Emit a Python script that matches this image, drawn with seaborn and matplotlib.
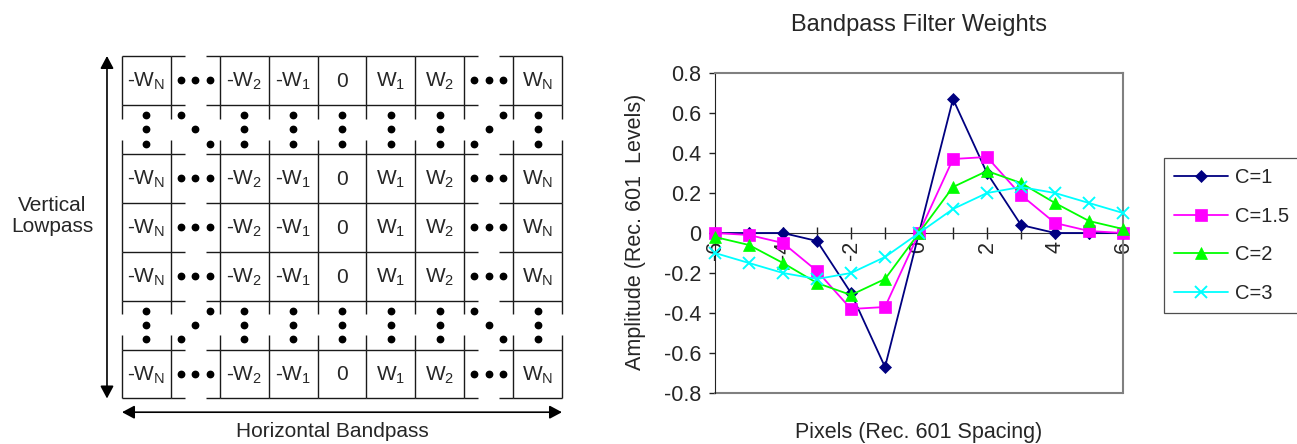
import numpy as np
import pandas as pd
import matplotlib
matplotlib.use("Agg")
import matplotlib.pyplot as plt
import seaborn as sns
from matplotlib.patches import ArrowStyle

# ---------------- data ----------------
pixels = [-6, -5, -4, -3, -2, -1, 0, 1, 2, 3, 4, 5, 6]
c_1 = [0, 0, 0, -0.04, -0.30, -0.67, 0, 0.67, 0.30, 0.04, 0, 0, 0]
c_1_5 = [0, -0.01, -0.05, -0.19, -0.38, -0.37, 0, 0.37, 0.38, 0.19, 0.05, 0.01, 0]
c_2 = [-0.02, -0.06, -0.15, -0.25, -0.31, -0.23, 0, 0.23, 0.31, 0.25, 0.15, 0.06, 0.02]
c_3 = [-0.10, -0.15, -0.20, -0.23, -0.20, -0.12, 0, 0.12, 0.20, 0.23, 0.20, 0.15, 0.10]
series_names = ["C=1", "C=1.5", "C=2", "C=3"]
y_ticks = [-0.8, -0.6, -0.4, -0.2, 0, 0.2, 0.4, 0.6, 0.8]

chart_title = "Bandpass Filter Weights"
x_title = "Pixels (Rec. 601 Spacing)"
y_title = "Amplitude (Rec. 601  Levels)"

# diagram content
col_labels = [r"-W$_\mathregular{N}$", "...", r"-W$_\mathregular{2}$", r"-W$_\mathregular{1}$", "0",
              r"W$_\mathregular{1}$", r"W$_\mathregular{2}$", "...", r"W$_\mathregular{N}$"]
row_kinds = ["values", "vdots", "values", "values", "values", "vdots", "values"]
vert_title = "Vertical\nLowpass"
horiz_title = "Horizontal Bandpass"

# ---------------- style ----------------
sns.set_style("white")
plt.rcParams["font.family"] = ["Liberation Sans", "DejaVu Sans"]
plt.rcParams["axes.unicode_minus"] = False

W, H = 1297, 444
fig = plt.figure(figsize=(W / 100, H / 100), dpi=100)

# ---------------- left diagram ----------------
ax0 = fig.add_axes([122 / W, 1 - 398.5 / H, 440 / W, 342.5 / H])
ncols, nrows = len(col_labels), len(row_kinds)
ax0.set_xlim(0, ncols)
ax0.set_ylim(nrows, 0)
ax0.axis("off")

lk = dict(color="#1a1a1a", lw=1.0, solid_capstyle="butt", clip_on=False)
dot_cols = [i for i, l in enumerate(col_labels) if l == "..."]
hgap = (0.29, 0.71)
vgap = (0.28, 0.71)
for r in range(nrows + 1):
    for c in range(ncols):
        if c in dot_cols:
            ax0.plot([c, c + hgap[0]], [r, r], **lk)
            ax0.plot([c + hgap[1], c + 1], [r, r], **lk)
        else:
            ax0.plot([c, c + 1], [r, r], **lk)
for c in range(ncols + 1):
    for r, kind in enumerate(row_kinds):
        if kind == "vdots":
            ax0.plot([c, c], [r, r + vgap[0]], **lk)
            ax0.plot([c, c], [r + vgap[1], r + 1], **lk)
        else:
            ax0.plot([c, c], [r, r + 1], **lk)

offs = np.array([0.21, 0.5, 0.79])
dk = dict(ls="none", marker="o", ms=4.6, color="black", clip_on=False)
for r, kind in enumerate(row_kinds):
    for c, lab in enumerate(col_labels):
        if kind == "values":
            if lab == "...":
                ax0.plot(c + offs, np.full(3, r + 0.5), **dk)
            else:
                ax0.text(c + 0.5, r + 0.63, lab, ha="center", va="baseline", fontsize=15)
        else:
            if lab == "...":
                left = c < ncols / 2
                top = r < nrows / 2
                ys = offs if left == top else offs[::-1]
                ax0.plot(c + offs, r + ys, **dk)
            else:
                ax0.plot(np.full(3, c + 0.5), r + offs, **dk)

astyle = ArrowStyle("<|-|>", head_length=0.75, head_width=0.4)
ax0.annotate("", xy=(-0.307, 0), xytext=(-0.307, nrows),
             arrowprops=dict(arrowstyle=astyle, color="black", lw=1.2,
                             shrinkA=0, shrinkB=0, mutation_scale=10), annotation_clip=False)
ax0.annotate("", xy=(0, 7.28), xytext=(ncols, 7.28),
             arrowprops=dict(arrowstyle=astyle, color="black", lw=1.2,
                             shrinkA=0, shrinkB=0, mutation_scale=10), annotation_clip=False)
ax0.text(-1.43, 3.27, vert_title, ha="center", va="center", fontsize=15, linespacing=1.1)
ax0.text(4.3, 7.67, horiz_title, ha="center", va="center", fontsize=15)

# ---------------- right chart ----------------
ax = fig.add_axes([715 / W, 1 - 393 / H, 408 / W, 320 / H])
ax.spines["bottom"].set_position(("data", 0))

palette = ["#000080", "#FF00FF", "#00FF00", "#00FFFF"]
markers = ["D", "s", "^", "x"]
msizes = [6.5, 8.5, 8.5, 8.5]
for name, vals, col, mk, ms in zip(series_names, [c_1, c_1_5, c_2, c_3], palette, markers, msizes):
    sns.lineplot(x=pixels, y=vals, ax=ax, color=col, marker=mk, markersize=ms,
                 markeredgecolor=col, markerfacecolor=col,
                 markeredgewidth=1.4 if mk == "x" else 0.5, lw=1.3, label=name,
                 zorder=3, clip_on=False)

ax.spines["bottom"].set_position(("data", 0))
ax.set_xlim(-6, 6)
ax.set_ylim(-0.8, 0.8)
ax.set_xticks(pixels)
ax.set_xticklabels([f"{p:g}" if p % 2 == 0 else "" for p in pixels])
ax.set_yticks(y_ticks)
ax.set_yticklabels([f"{v:g}" for v in y_ticks])
ax.tick_params(axis="x", direction="inout", length=9, width=1.0, pad=1, color="#222222",
               labelsize=15.5, labelrotation=90, bottom=True)
ax.tick_params(axis="y", direction="out", length=4, width=1.0, pad=6, color="#222222",
               labelsize=15.5, left=True)

ax.spines["bottom"].set_color("#333333")
ax.spines["left"].set_color("#222222")
for s in ["top", "right"]:
    ax.spines[s].set_color("#808080")
    ax.spines[s].set_linewidth(1.5)
ax.plot([0, 1], [0, 0], transform=ax.transAxes, color="#808080", lw=1.5, clip_on=False)

ax.text(0.5, 1.15, chart_title, transform=ax.transAxes, ha="center", va="center", fontsize=17)
ax.set_ylabel(y_title, fontsize=15.5)
ax.yaxis.set_label_coords(-0.196, 0.503)
ax.yaxis.label.set_va("center")
ax.set_xlabel(x_title, fontsize=15.5)
ax.xaxis.set_label_coords(0.5, -0.122)
ax.xaxis.label.set_va("center")

handles, labels = ax.get_legend_handles_labels()
if ax.get_legend() is not None:
    ax.get_legend().remove()
leg = fig.legend(handles, labels, loc="upper left", bbox_to_anchor=(1164 / W, 1 - 158 / H),
                 bbox_transform=fig.transFigure, frameon=True, fancybox=False,
                 edgecolor="#222222", fontsize=14.5, handlelength=2.7, handletextpad=0.35,
                 labelspacing=0.97, borderpad=0.5, borderaxespad=0)
leg.get_frame().set_linewidth(0.9)

fig.savefig("out.png", dpi=100)
